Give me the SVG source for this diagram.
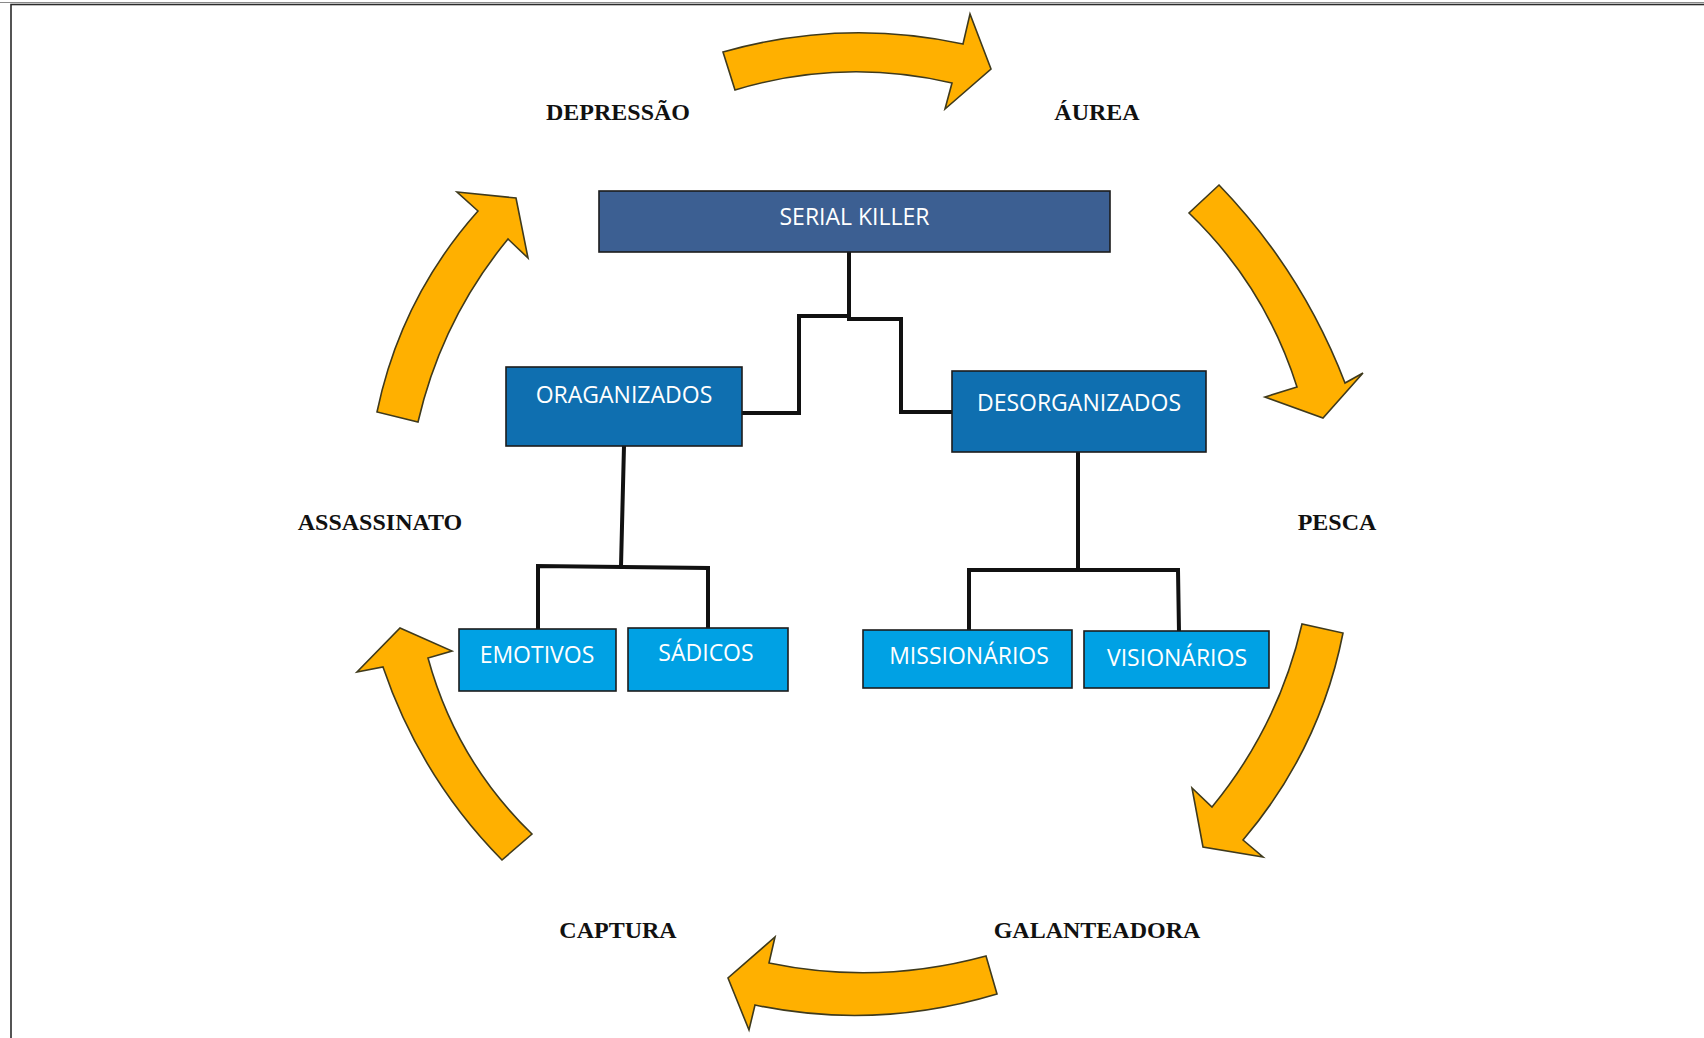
<svg xmlns="http://www.w3.org/2000/svg" width="1704" height="1038" viewBox="0 0 1704 1038">
  <style>
    .frame { fill: none; stroke: #2b2b2b; stroke-width: 1.6; }
    .cycle { fill: #FFB000; stroke: #3f3a1c; stroke-width: 1.6; stroke-linejoin: miter; }
    .box { stroke: #1c1c1c; stroke-width: 1.6; }
    .top { fill: #3C5F92; }
    .mid { fill: #0F6FB0; }
    .leaf { fill: #00A1E4; }
    .boxtext { font-family: "Open Sans", "Noto Sans", sans-serif; font-size: 23px; fill: #ffffff; text-anchor: middle; }
    .phase { font-family: "Liberation Serif", "Times New Roman", serif; font-weight: bold; font-size: 24px; fill: #111111; text-anchor: middle; }
    .link { fill: none; stroke: #111111; stroke-width: 4; stroke-linejoin: miter; stroke-linecap: square; }
  </style>

  <rect width="1704" height="1038" fill="#ffffff"/>

  <!-- page frame (right and bottom edges run past the canvas) -->
  <line x1="0" y1="2.5" x2="1704" y2="2.5" stroke="#8a8a8a" stroke-width="1.2"/>
  <rect class="frame" x="11" y="4.5" width="1760" height="1100"/>

  <!-- cycle of phases: curved block arrows -->
  <g id="cycle-arrows">
    <path id="arrow-aurea" class="cycle" d="M723,52 Q843,18 963,44 L970,14 L991,69 L945,109 L952,83 Q842.5,57.5 735,90 Z"/>
    <path id="arrow-pesca" class="cycle" d="M1219,185 Q1302,271 1345,383 L1363,373 L1323,418 L1265,397 L1297,387 Q1265,286 1189,213 Z"/>
    <path id="arrow-galanteadora" class="cycle" d="M1343,633 Q1320,749.5 1243,840 L1263,857 L1203,847 L1192,788 L1212,807 Q1278.6,726 1302,624 Z"/>
    <path id="arrow-captura" class="cycle" d="M986,956 Q877.5,985.5 769,963 L775,937 L728,978 L749,1030 L755,1005 Q876,1030.5 997,994 Z"/>
    <path id="arrow-assassinato" class="cycle" d="M532,834 Q456.2,760.7 428,658 L452,651 L400,628 L357,672 L383,667 Q420.4,777.2 502,860 Z"/>
    <path id="arrow-depressao" class="cycle" d="M377,412 Q400.7,298 478,211 L457,192 L516,198 L528,258 L508,239 Q441.6,319.7 418,422 Z"/>
  </g>

  <!-- phase labels -->
  <g id="phase-labels">
    <text id="label-depressao" class="phase" x="618" y="120">DEPRESSÃO</text>
    <text id="label-aurea" class="phase" x="1097" y="120">ÁUREA</text>
    <text id="label-assassinato" class="phase" x="380" y="530">ASSASSINATO</text>
    <text id="label-pesca" class="phase" x="1337" y="530">PESCA</text>
    <text id="label-captura" class="phase" x="618" y="938">CAPTURA</text>
    <text id="label-galanteadora" class="phase" x="1097" y="938">GALANTEADORA</text>
  </g>

  <!-- tree connectors -->
  <g id="connectors">
    <path class="link" d="M849,252 V317"/>
    <path class="link" d="M742,413 H799 V316 H849 V319 H901 V412 H952"/>
    <path class="link" d="M624,446 L621,566"/>
    <path class="link" d="M538,628 V566 L708,568 V628"/>
    <path class="link" d="M1078,452 V570"/>
    <path class="link" d="M969,630 V570 H1178 L1179,632"/>
  </g>

  <!-- classification tree nodes -->
  <g id="node-serial-killer">
    <rect class="box top" x="599" y="191" width="511" height="61"/>
    <text class="boxtext" x="854.5" y="225">SERIAL KILLER</text>
  </g>
  <g id="node-organizados">
    <rect class="box mid" x="506" y="367" width="236" height="79"/>
    <text class="boxtext" x="624" y="403">ORAGANIZADOS</text>
  </g>
  <g id="node-desorganizados">
    <rect class="box mid" x="952" y="371" width="254" height="81"/>
    <text class="boxtext" x="1079" y="411">DESORGANIZADOS</text>
  </g>
  <g id="node-emotivos">
    <rect class="box leaf" x="459" y="629" width="157" height="62"/>
    <text class="boxtext" x="537" y="663">EMOTIVOS</text>
  </g>
  <g id="node-sadicos">
    <rect class="box leaf" x="628" y="628" width="160" height="63"/>
    <text class="boxtext" x="706" y="661">SÁDICOS</text>
  </g>
  <g id="node-missionarios">
    <rect class="box leaf" x="863" y="630" width="209" height="58"/>
    <text class="boxtext" x="969" y="664">MISSIONÁRIOS</text>
  </g>
  <g id="node-visionarios">
    <rect class="box leaf" x="1084" y="631" width="185" height="57"/>
    <text class="boxtext" x="1177" y="666">VISIONÁRIOS</text>
  </g>
</svg>
